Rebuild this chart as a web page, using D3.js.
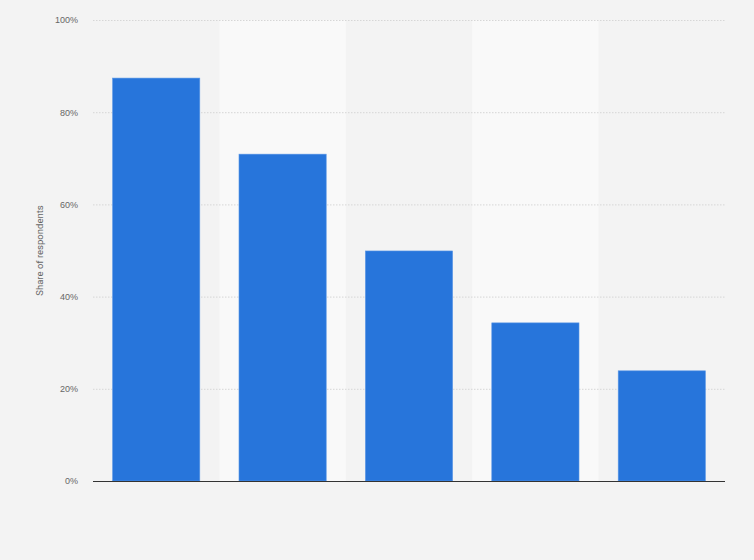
<!DOCTYPE html>
<html>
<head>
<meta charset="utf-8">
<script src="https://cdn.jsdelivr.net/npm/d3@7"></script>
<style>
  html, body { margin: 0; padding: 0; background: #f3f3f3; }
  svg { display: block; font-family: Roboto, "Open Sans", sans-serif; }
</style>
</head>
<body>
<div id="chart"></div>
<script>
// data (categories have no visible labels)
const categories = ['A', 'B', 'C', 'D', 'E']
const shares = [87.4, 70.9, 49.9, 34.3, 23.9]
const yTicks = [0, 20, 40, 60, 80, 100]

const width = 754
const height = 560
const margin = {top: 20, right: 29, bottom: 79, left: 93}

const svg = d3.select('#chart').append('svg')
    .attr('width', width)
    .attr('height', height)

svg.append('rect')
    .attr('width', width)
    .attr('height', height)
    .attr('fill', '#f3f3f3')

const x = d3.scaleBand()
    .domain(categories)
    .range([margin.left, width - margin.right])
    .paddingInner(0.31)
    .paddingOuter(0.155)

const y = d3.scaleLinear()
    .domain([0, 100])
    .range([height - margin.bottom, margin.top])

// lighter background stripes on every second column
const step = x.step()
svg.append('g')
    .selectAll('rect')
    .data(categories.filter((d, i) => i % 2 === 1))
    .join('rect')
    .attr('x', d => x(d) - step * x.paddingInner() / 2)
    .attr('y', y(100))
    .attr('width', step)
    .attr('height', y(0) - y(100))
    .attr('fill', '#f9f9f9')

// grid
const yAxis = g => g
    .attr('transform', `translate(${margin.left}, 0)`)
    .call(d3.axisLeft(y).tickValues(yTicks).tickFormat(d => d + '%')
        .tickSize(-(width - margin.left - margin.right)).tickPadding(15))
    .call(g => g.select('.domain').remove())
    .call(g => g.selectAll('.tick line')
        .attr('stroke', '#d6d6d6')
        .attr('stroke-dasharray', '1.5,1.5'))
    .call(g => g.selectAll('.tick text')
        .attr('fill', '#666')
        .attr('font-size', 9))

svg.append('g').call(yAxis)

// bars
svg.append('g')
    .selectAll('rect')
    .data(shares)
    .join('rect')
    .attr('x', (d, i) => x(categories[i]))
    .attr('y', d => y(d))
    .attr('width', x.bandwidth())
    .attr('height', d => y(0) - y(d))
    .attr('fill', '#2775db')
    .attr('stroke', '#5b97e6')
    .attr('stroke-width', 0.6)

// baseline
svg.append('line')
    .attr('x1', margin.left)
    .attr('x2', width - margin.right)
    .attr('y1', y(0) + 0.5)
    .attr('y2', y(0) + 0.5)
    .attr('stroke', '#333')
    .attr('stroke-width', 1)

svg.append('text')
    .attr('transform', `translate(43, ${(y(0) + y(100)) / 2}) rotate(-90)`)
    .attr('text-anchor', 'middle')
    .attr('fill', '#666')
    .attr('font-size', 9.5)
    .text('Share of respondents')
</script>
</body>
</html>
